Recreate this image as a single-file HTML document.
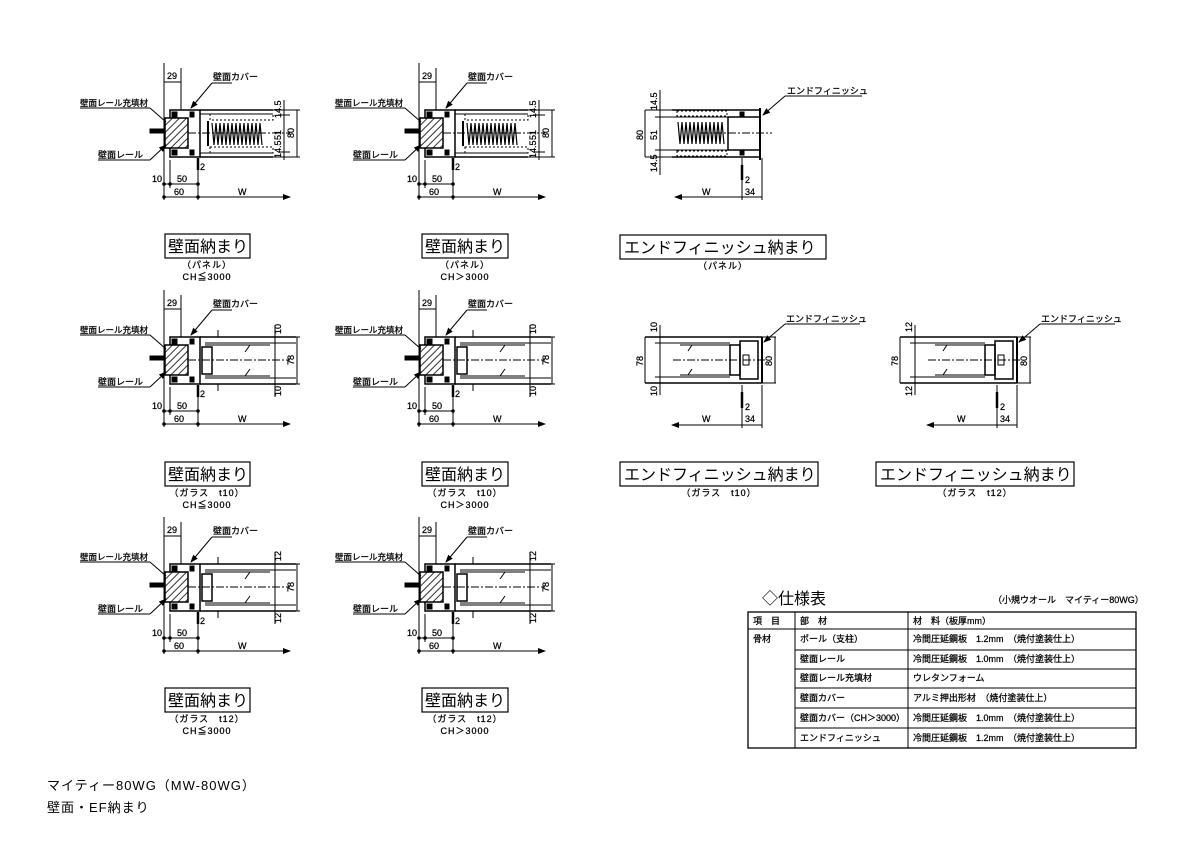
<!DOCTYPE html>
<html><head><meta charset="utf-8"><style>
html,body{margin:0;padding:0;background:#fff}
svg{display:block}
text{font-family:"Liberation Sans","Noto Sans CJK JP",sans-serif;fill:#000}
.s{font-size:9px;stroke:#000;stroke-width:0.25}
.t{font-size:16px}
.m{font-size:10px}
.sp{letter-spacing:1px}
</style></head><body>
<svg width="1191" height="842" viewBox="0 0 1191 842" xmlns="http://www.w3.org/2000/svg">
<defs>
<pattern id="h" width="5" height="5" patternUnits="userSpaceOnUse" patternTransform="rotate(45)"><rect width="5" height="5" fill="#fff"/><line x1="0" y1="0" x2="0" y2="5" stroke="#000" stroke-width="1.6"/></pattern>
<marker id="ar" markerWidth="8" markerHeight="6" refX="7" refY="3" orient="auto"><path d="M0,0 L8,3 L0,6z" fill="#000"/></marker>
<g id="wall" stroke="#000" fill="none" stroke-width="1">
<line x1="164" y1="63" x2="164" y2="200"/>
<line x1="164" y1="82" x2="181" y2="82"/><line x1="181" y1="68" x2="181" y2="110"/>
<rect x="170" y="110" width="30" height="47" stroke-width="1.5"/>
<rect x="165" y="118" width="23" height="30" fill="url(#h)" stroke-width="1.5"/>
<rect x="150" y="129" width="15" height="4" fill="#000"/>
<rect x="172" y="112" width="5" height="5" fill="#000"/><rect x="172" y="150" width="5" height="5" fill="#000"/>
<rect x="190" y="112" width="4" height="5" fill="#000"/><rect x="190" y="150" width="4" height="5" fill="#000"/>
<line x1="170" y1="160" x2="170" y2="188"/><line x1="198" y1="158" x2="198" y2="200"/>
<line x1="164" y1="184" x2="198" y2="184"/>
<line x1="164" y1="197" x2="290" y2="197" marker-end="url(#ar)"/>
<line x1="198" y1="158" x2="198" y2="170" stroke-width="2.5"/>
<line x1="232" y1="83" x2="212" y2="83"/><line x1="212" y1="83" x2="191" y2="108" marker-end="url(#ar)"/>
<line x1="80" y1="108" x2="150" y2="108"/><line x1="150" y1="108" x2="166" y2="122"/>
<line x1="98" y1="160" x2="150" y2="160"/><line x1="150" y1="160" x2="166" y2="145" marker-end="url(#ar)"/>
<circle cx="164" cy="184" r="1.3" fill="#000"/><circle cx="170" cy="184" r="1.3" fill="#000"/><circle cx="198" cy="184" r="1.3" fill="#000"/><circle cx="164" cy="197" r="1.3" fill="#000"/><circle cx="198" cy="197" r="1.3" fill="#000"/>
</g>
<g id="wp" stroke="#000" fill="none" stroke-width="1">
<use href="#wall"/>
<line x1="200" y1="110" x2="273" y2="110" stroke-width="1.5"/><line x1="200" y1="157" x2="273" y2="157" stroke-width="1.5"/>
<line x1="200" y1="114" x2="273" y2="114"/><line x1="200" y1="153" x2="273" y2="153"/>
<rect x="210" y="114" width="63" height="6" stroke-dasharray="2 2"/><rect x="210" y="147" width="63" height="6" stroke-dasharray="2 2"/>
<path d="M212,123 l2,22 l2,-22 l2,22 l2,-22 l2,22 l2,-22 l2,22 l2,-22 l2,22 l2,-22 l2,22 l2,-22 l2,22 l2,-22 l2,22 l2,-22 l2,22 l2,-22 l2,22 l2,-22 l2,22 l2,-22 l2,22 l2,-22 l2,22" stroke-width="1.2"/>
<line x1="208" y1="121" x2="208" y2="146" stroke-width="2"/>
<line x1="188" y1="133" x2="290" y2="133" stroke-dasharray="8 2 2 2"/>
<line x1="273" y1="110" x2="300" y2="110"/><line x1="273" y1="157" x2="300" y2="157"/>
<line x1="297" y1="110" x2="297" y2="157"/><line x1="284" y1="100" x2="284" y2="160"/>
<line x1="278" y1="115" x2="290" y2="115"/><line x1="278" y1="152" x2="290" y2="152"/>
</g>
<g id="wg" stroke="#000" fill="none" stroke-width="1">
<use href="#wall"/>
<line x1="200" y1="110" x2="296" y2="110" stroke-width="1.5"/><line x1="200" y1="157" x2="296" y2="157" stroke-width="1.5"/>
<line x1="205" y1="116" x2="296" y2="116"/><line x1="205" y1="151" x2="296" y2="151"/>
<line x1="205" y1="118" x2="270" y2="118"/><line x1="205" y1="149" x2="270" y2="149"/>
<rect x="202" y="120" width="10" height="27" stroke-width="1.5"/>
<line x1="245" y1="125" x2="250" y2="118"/><line x1="245" y1="149" x2="250" y2="142"/>
<line x1="188" y1="133" x2="290" y2="133" stroke-dasharray="8 2 2 2"/>
<line x1="296" y1="110" x2="300" y2="110"/><line x1="296" y1="157" x2="300" y2="157"/>
<line x1="297" y1="110" x2="297" y2="157"/><line x1="275" y1="98" x2="275" y2="170"/>
<line x1="270" y1="116" x2="280" y2="116"/><line x1="270" y1="151" x2="280" y2="151"/>
<line x1="218" y1="103" x2="218" y2="110"/><line x1="218" y1="157" x2="218" y2="164"/>
</g>
</defs>

<use href="#wp"/>
<use href="#wp" x="255"/>
<use href="#wg" y="227"/>
<use href="#wg" x="255" y="227"/>
<use href="#wg" y="454"/>
<use href="#wg" x="255" y="454"/>

<g class="s">
<text x="167" y="79">29</text><text x="213" y="80">壁面カバー</text><text x="80" y="106" font-size="8.5">壁面レール充填材</text><text x="98" y="158">壁面レール</text>
<text x="200" y="170">2</text><text x="152" y="182">10</text><text x="177" y="182">50</text><text x="174" y="195">60</text><text x="238" y="195">W</text>
<text x="422" y="79">29</text><text x="468" y="80">壁面カバー</text><text x="335" y="106" font-size="8.5">壁面レール充填材</text><text x="353" y="158">壁面レール</text>
<text x="455" y="170">2</text><text x="407" y="182">10</text><text x="432" y="182">50</text><text x="429" y="195">60</text><text x="493" y="195">W</text>

<text x="167" y="306">29</text><text x="213" y="307">壁面カバー</text><text x="80" y="333" font-size="8.5">壁面レール充填材</text><text x="98" y="385">壁面レール</text>
<text x="200" y="397">2</text><text x="152" y="409">10</text><text x="177" y="409">50</text><text x="174" y="422">60</text><text x="238" y="422">W</text>
<text x="422" y="306">29</text><text x="468" y="307">壁面カバー</text><text x="335" y="333" font-size="8.5">壁面レール充填材</text><text x="353" y="385">壁面レール</text>
<text x="455" y="397">2</text><text x="407" y="409">10</text><text x="432" y="409">50</text><text x="429" y="422">60</text><text x="493" y="422">W</text>

<text x="167" y="533">29</text><text x="213" y="534">壁面カバー</text><text x="80" y="560" font-size="8.5">壁面レール充填材</text><text x="98" y="612">壁面レール</text>
<text x="200" y="624">2</text><text x="152" y="636">10</text><text x="177" y="636">50</text><text x="174" y="649">60</text><text x="238" y="649">W</text>
<text x="422" y="533">29</text><text x="468" y="534">壁面カバー</text><text x="335" y="560" font-size="8.5">壁面レール充填材</text><text x="353" y="612">壁面レール</text>
<text x="455" y="624">2</text><text x="407" y="636">10</text><text x="432" y="636">50</text><text x="429" y="649">60</text><text x="493" y="649">W</text>
</g>
<g class="s">
<text transform="translate(294,138) rotate(-90)">80</text><text transform="translate(549,138) rotate(-90)">80</text>
<text transform="translate(281,118) rotate(-90)">14.5</text><text transform="translate(281,140) rotate(-90)">51</text><text transform="translate(281,158) rotate(-90)">14.5</text>
<text transform="translate(536,118) rotate(-90)">14.5</text><text transform="translate(536,140) rotate(-90)">51</text><text transform="translate(536,158) rotate(-90)">14.5</text>
<text transform="translate(294,365) rotate(-90)">78</text><text transform="translate(549,365) rotate(-90)">78</text>
<text transform="translate(281,334) rotate(-90)">10</text><text transform="translate(281,396) rotate(-90)">10</text>
<text transform="translate(536,334) rotate(-90)">10</text><text transform="translate(536,396) rotate(-90)">10</text>
<text transform="translate(294,592) rotate(-90)">78</text><text transform="translate(549,592) rotate(-90)">78</text>
<text transform="translate(281,561) rotate(-90)">12</text><text transform="translate(281,623) rotate(-90)">12</text>
<text transform="translate(536,561) rotate(-90)">12</text><text transform="translate(536,623) rotate(-90)">12</text>
</g>

<g stroke="#000" fill="none" stroke-width="1">
<line x1="672" y1="110" x2="760" y2="110" stroke-width="1.5"/><line x1="672" y1="157" x2="760" y2="157" stroke-width="1.5"/>
<line x1="672" y1="117" x2="730" y2="117"/><line x1="672" y1="150" x2="730" y2="150"/>
<rect x="677" y="111" width="50" height="5" stroke-dasharray="2 2"/><rect x="677" y="151" width="50" height="5" stroke-dasharray="2 2"/>
<path d="M678,122 l2,22 l2,-22 l2,22 l2,-22 l2,22 l2,-22 l2,22 l2,-22 l2,22 l2,-22 l2,22 l2,-22 l2,22 l2,-22 l2,22 l2,-22 l2,22 l2,-22 l2,22 l2,-22 l2,22 l2,-22 l2,22" stroke-width="1.2"/>
<rect x="728" y="117" width="32" height="33" stroke-width="1.5"/>
<rect x="740" y="112" width="4" height="5" fill="#000"/><rect x="740" y="150" width="4" height="5" fill="#000"/>
<line x1="760" y1="108" x2="760" y2="160" stroke-width="2"/>
<line x1="645" y1="110" x2="672" y2="110"/><line x1="645" y1="157" x2="672" y2="157"/>
<line x1="645" y1="110" x2="645" y2="157"/><line x1="660" y1="90" x2="660" y2="175"/>
<line x1="655" y1="117" x2="672" y2="117"/><line x1="655" y1="150" x2="672" y2="150"/>
<line x1="700" y1="133" x2="772" y2="133" stroke-dasharray="8 2 2 2"/>
<line x1="742" y1="158" x2="742" y2="200"/><line x1="762" y1="158" x2="762" y2="200"/>
<line x1="742" y1="165" x2="742" y2="180" stroke-width="2.5"/>
<line x1="762" y1="197" x2="675" y2="197" marker-end="url(#ar)"/>
<line x1="862" y1="96" x2="785" y2="96"/><line x1="785" y1="96" x2="763" y2="115" marker-end="url(#ar)"/>
</g>
<g class="s"><text x="787" y="94">エンドフィニッシュ</text><text x="745" y="183">2</text><text x="745" y="195">34</text><text x="702" y="195">W</text>
<text transform="translate(643,140) rotate(-90)">80</text><text transform="translate(657,140) rotate(-90)">51</text>
<text transform="translate(657,110) rotate(-90)">14.5</text><text transform="translate(657,172) rotate(-90)">14.5</text></g>

<g id="efg" stroke="#000" fill="none" stroke-width="1">
<line x1="645" y1="337" x2="762" y2="337" stroke-width="1.5"/><line x1="645" y1="383" x2="762" y2="383" stroke-width="1.5"/>
<line x1="660" y1="343" x2="730" y2="343"/><line x1="660" y1="377" x2="730" y2="377"/>
<line x1="680" y1="345" x2="730" y2="345"/><line x1="680" y1="375" x2="730" y2="375"/>
<line x1="688" y1="351" x2="692" y2="345"/><line x1="688" y1="375" x2="692" y2="369"/>
<rect x="730" y="345" width="10" height="30" stroke-width="1.5"/>
<rect x="740" y="341" width="18" height="38" stroke-width="1.5"/>
<rect x="743" y="355" width="6" height="10"/>
<line x1="762" y1="337" x2="762" y2="383" stroke-width="2"/>
<line x1="645" y1="337" x2="645" y2="383"/><line x1="660" y1="325" x2="660" y2="395"/>
<line x1="655" y1="343" x2="665" y2="343"/><line x1="655" y1="377" x2="665" y2="377"/>
<line x1="762" y1="337" x2="776" y2="337"/><line x1="762" y1="383" x2="776" y2="383"/><line x1="775" y1="337" x2="775" y2="383"/>
<line x1="673" y1="360" x2="765" y2="360" stroke-dasharray="8 2 2 2"/>
<line x1="742" y1="385" x2="742" y2="428"/><line x1="762" y1="385" x2="762" y2="428"/>
<line x1="742" y1="392" x2="742" y2="408" stroke-width="2.5"/>
<line x1="762" y1="425" x2="672" y2="425" marker-end="url(#ar)"/>
<line x1="860" y1="324" x2="785" y2="324"/><line x1="785" y1="324" x2="764" y2="342" marker-end="url(#ar)"/>
</g>
<use href="#efg" x="255"/>
<g class="s"><text x="786" y="322">エンドフィニッシュ</text><text x="745" y="410">2</text><text x="745" y="422">34</text><text x="702" y="422">W</text>
<text transform="translate(643,366) rotate(-90)">78</text><text transform="translate(657,332) rotate(-90)">10</text><text transform="translate(657,396) rotate(-90)">10</text><text transform="translate(772,366) rotate(-90)">80</text>
<text x="1041" y="322">エンドフィニッシュ</text><text x="1000" y="410">2</text><text x="1000" y="422">34</text><text x="957" y="422">W</text>
<text transform="translate(898,366) rotate(-90)">78</text><text transform="translate(912,332) rotate(-90)">12</text><text transform="translate(912,396) rotate(-90)">12</text><text transform="translate(1027,366) rotate(-90)">80</text></g>

<g fill="none" stroke="#000" stroke-width="1.2">
<rect x="165" y="234" width="85" height="24"/><rect x="422" y="234" width="86" height="24"/><rect x="620" y="235" width="206" height="24"/>
<rect x="165" y="462" width="85" height="24"/><rect x="422" y="462" width="86" height="24"/><rect x="620" y="462" width="198" height="24"/><rect x="876" y="462" width="198" height="24"/>
<rect x="165" y="688" width="85" height="24"/><rect x="422" y="688" width="86" height="24"/>
</g>
<g class="t">
<text x="168" y="252">壁面納まり</text><text x="425" y="252">壁面納まり</text><text x="624" y="253">エンドフィニッシュ納まり</text>
<text x="168" y="480">壁面納まり</text><text x="425" y="480">壁面納まり</text><text x="624" y="480">エンドフィニッシュ納まり</text><text x="880" y="480">エンドフィニッシュ納まり</text>
<text x="168" y="706">壁面納まり</text><text x="425" y="706">壁面納まり</text>
</g>
<g class="s sp" text-anchor="middle">
<text x="207" y="268">（パネル）</text><text x="207" y="280">CH≦3000</text>
<text x="465" y="268">（パネル）</text><text x="465" y="280">CH＞3000</text>
<text x="723" y="269">（パネル）</text>
<text x="207" y="496">（ガラス　t10）</text><text x="207" y="508">CH≦3000</text>
<text x="465" y="496">（ガラス　t10）</text><text x="465" y="508">CH＞3000</text>
<text x="719" y="496">（ガラス　t10）</text><text x="975" y="496">（ガラス　t12）</text>
<text x="207" y="722">（ガラス　t12）</text><text x="207" y="734">CH≦3000</text>
<text x="465" y="722">（ガラス　t12）</text><text x="465" y="734">CH＞3000</text>
</g>

<text x="762" y="604" font-size="16">◇仕様表</text>
<text x="993" y="603" class="s" font-size="8.5">（小規ウオール　マイティー80WG）</text>
<g fill="none" stroke="#000" stroke-width="1">
<rect x="748" y="612" width="388" height="136" stroke-width="1.3"/>
<line x1="748" y1="629" x2="1136" y2="629"/>
<line x1="795" y1="612" x2="795" y2="748"/><line x1="908" y1="612" x2="908" y2="748"/>
<line x1="795" y1="650" x2="1136" y2="650"/><line x1="795" y1="669" x2="1136" y2="669"/>
<line x1="795" y1="688" x2="1136" y2="688"/><line x1="795" y1="708" x2="1136" y2="708"/><line x1="795" y1="728" x2="1136" y2="728"/>
</g>
<g class="s">
<text x="753" y="624">項　目</text><text x="800" y="624">部　材</text><text x="913" y="624">材　料（板厚mm）</text>
<text x="753" y="642">骨材</text>
<text x="800" y="642">ポール（支柱）</text><text x="913" y="642">冷間圧延鋼板　1.2mm　（焼付塗装仕上）</text>
<text x="800" y="662">壁面レール</text><text x="913" y="662">冷間圧延鋼板　1.0mm　（焼付塗装仕上）</text>
<text x="800" y="681">壁面レール充填材</text><text x="913" y="681">ウレタンフォーム</text>
<text x="800" y="701">壁面カバー</text><text x="913" y="701">アルミ押出形材　（焼付塗装仕上）</text>
<text x="800" y="721">壁面カバー（CH＞3000）</text><text x="913" y="721">冷間圧延鋼板　1.0mm　（焼付塗装仕上）</text>
<text x="800" y="741">エンドフィニッシュ</text><text x="913" y="741">冷間圧延鋼板　1.2mm　（焼付塗装仕上）</text>
</g>

<text x="47" y="790" font-size="13" class="sp">マイティー80WG（MW-80WG）</text>
<text x="47" y="812" font-size="13" class="sp">壁面・EF納まり</text>
</svg>
</body></html>
